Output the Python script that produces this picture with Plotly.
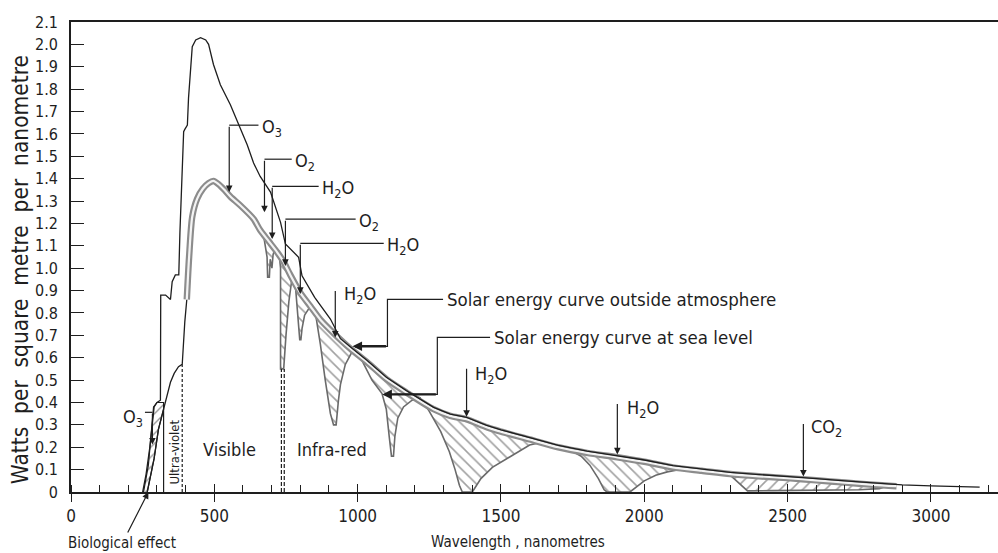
import plotly.graph_objects as go

# ---------------------------------------------------------------- data
# Spectrum outside the atmosphere (thin black line), W m^-2 nm^-1
outside_nm = [250, 262, 275, 285, 290, 300, 312, 313, 330, 347, 353, 364, 376, 380,
              389, 393, 397, 406, 410, 417, 423, 435, 452, 470, 480, 497, 521, 556,
              591, 615, 637, 660, 696, 731, 748, 794, 806, 850, 905, 940, 975, 1033,
              1100, 1170, 1265, 1323, 1380, 1450, 1500, 1600, 1700, 1800, 1906, 2000,
              2100, 2200, 2300, 2400, 2500, 2600, 2700, 2800, 2900, 3000, 3100, 3170]
outside_wm2 = [0.00, 0.08, 0.20, 0.33, 0.38, 0.40, 0.41, 0.88, 0.88, 0.86, 0.94, 0.97, 0.97, 1.16,
               1.46, 1.61, 1.62, 1.64, 1.76, 1.91, 1.99, 2.02, 2.03, 2.02, 2.00, 1.91, 1.82, 1.73,
               1.62, 1.55, 1.47, 1.41, 1.34, 1.205, 1.108, 1.049, 0.966, 0.87, 0.773, 0.685, 0.648, 0.588,
               0.513, 0.453, 0.378, 0.348, 0.333, 0.298, 0.278, 0.243, 0.208, 0.183, 0.163, 0.143,
               0.118, 0.103, 0.088, 0.078, 0.070, 0.060, 0.050, 0.040, 0.032, 0.027, 0.024, 0.022]

# Sea-level spectrum without absorption bands (grey band)
envelope_nm = [404, 412, 423, 440, 460, 480, 497, 515, 535, 556, 591, 637, 660, 690, 720,
               741, 765, 800, 835, 870, 916, 975, 1033, 1100, 1170, 1265, 1323, 1380, 1450,
               1500, 1600, 1700, 1800, 1906, 2000, 2100, 2200, 2300, 2400, 2500, 2600, 2700,
               2800, 2880]
envelope_wm2 = [0.86, 1.05, 1.23, 1.31, 1.355, 1.38, 1.39, 1.375, 1.35, 1.32, 1.28, 1.22, 1.17,
                1.12, 1.07, 1.03, 0.97, 0.89, 0.83, 0.77, 0.71, 0.64, 0.58, 0.505, 0.445, 0.37,
                0.34, 0.325, 0.29, 0.27, 0.235, 0.20, 0.175, 0.155, 0.135, 0.11, 0.095, 0.08,
                0.07, 0.062, 0.052, 0.042, 0.032, 0.026]

# Sea-level spectrum in the ultra-violet
uv_sea_nm = [266, 290, 305, 323, 335, 347, 360, 375, 388, 392, 397, 404]
uv_sea_wm2 = [0.00, 0.15, 0.28, 0.37, 0.44, 0.49, 0.53, 0.56, 0.57, 0.66, 0.76, 0.86]

# Ozone-absorbed ultra-violet (biological effect region)
uv_abs_nm = [253, 270, 288, 300, 323, 323, 305, 290, 266]
uv_abs_wm2 = [0.00, 0.12, 0.38, 0.40, 0.40, 0.37, 0.28, 0.15, 0.00]

# Lower edge of the sea-level spectrum inside each absorption band
dip_o2_nm = [672, 684, 686, 692, 695, 701, 705, 712]
dip_o2_wm2 = [1.145, 1.05, 0.96, 0.96, 1.04, 1.00, 1.06, 1.09]
dip_o2a_nm = [728, 731, 731, 742, 750, 760, 771]
dip_o2a_wm2 = [1.04, 1.00, 0.55, 0.55, 0.70, 0.85, 0.955]
dip_h2o_820_nm = [783, 790, 798, 802, 806, 815, 835]
dip_h2o_820_wm2 = [0.92, 0.80, 0.68, 0.68, 0.73, 0.79, 0.83]
dip_h2o_940_nm = [855, 870, 887, 905, 916, 925, 933, 940, 957, 982]
dip_h2o_940_wm2 = [0.78, 0.66, 0.50, 0.35, 0.30, 0.30, 0.41, 0.48, 0.57, 0.63]
dip_h2o_1130_nm = [1010, 1050, 1085, 1100, 1110, 1118, 1125, 1130, 1140, 1160, 1190, 1220]
dip_h2o_1130_wm2 = [0.60, 0.50, 0.44, 0.37, 0.25, 0.16, 0.16, 0.25, 0.33, 0.38, 0.41, 0.42]
dip_h2o_1400_nm = [1230, 1250, 1290, 1320, 1340, 1355, 1365, 1400, 1410, 1430, 1470, 1520, 1560,
                   1600, 1650]
dip_h2o_1400_wm2 = [0.40, 0.36, 0.27, 0.18, 0.10, 0.03, 0.00, 0.00, 0.02, 0.06, 0.11, 0.15, 0.18,
                    0.21, 0.225]
dip_h2o_1900_nm = [1740, 1780, 1810, 1840, 1860, 1870, 1950, 1970, 2000, 2040, 2080, 2120, 2150]
dip_h2o_1900_wm2 = [0.188, 0.16, 0.12, 0.06, 0.01, 0.00, 0.00, 0.02, 0.05, 0.075, 0.09, 0.10, 0.104]
dip_co2_nm = [2295, 2330, 2360, 2450, 2550, 2650, 2750, 2820, 2850]
dip_co2_wm2 = [0.081, 0.04, 0.005, 0.006, 0.008, 0.008, 0.01, 0.015, 0.028]

# Absorber labels and the wavelength / level each arrow points to
absorber_text = ["O<sub>3</sub>", "O<sub>2</sub>", "H<sub>2</sub>O", "O<sub>2</sub>",
                 "H<sub>2</sub>O", "H<sub>2</sub>O", "H<sub>2</sub>O", "H<sub>2</sub>O",
                 "CO<sub>2</sub>", "O<sub>3</sub>"]
absorber_nm = [552, 675, 702, 748, 800, 922, 1380, 1906, 2555, 284]
absorber_tip = [1.34, 1.25, 1.13, 1.01, 0.885, 0.69, 0.336, 0.168, 0.069, 0.212]

x_ticks = [0, 500, 1000, 1500, 2000, 2500, 3000]
y_ticks = [round(0.1 * i, 1) for i in range(22)]
y_tick_text = ["0"] + [f"{v:.1f}" for v in y_ticks[1:]]

# ---------------------------------------------------------------- style
INK = "#1e1e1e"
GREY = "#8c8c8c"
FONT = "DejaVu Sans Condensed, DejaVu Sans, sans-serif"

fig = go.Figure()


def hatch(nm, wm2, shape):
    """Hatched area between the envelope and a lower sea-level edge."""
    lo, hi = nm[0], nm[-1]
    top_x = [x for x in envelope_nm if lo < x < hi]
    top_y = [y for x, y in zip(envelope_nm, envelope_wm2) if lo < x < hi]
    xs = list(nm) + top_x[::-1] + [nm[0]]
    ys = list(wm2) + top_y[::-1] + [wm2[0]]
    fig.add_trace(go.Scatter(
        x=xs, y=ys, mode="lines", fill="toself", fillcolor="rgba(0,0,0,0)",
        line=dict(color="#6a6a6a", width=1.6),
        fillpattern=dict(shape=shape, fgcolor="#444", bgcolor="white",
                         size=8, solidity=0.2),
        hoverinfo="skip", showlegend=False))


for dnm, dval, shp in [
    (dip_o2_nm, dip_o2_wm2, "\\"),
    (dip_o2a_nm, dip_o2a_wm2, "\\"),
    (dip_h2o_820_nm, dip_h2o_820_wm2, "\\"),
    (dip_h2o_940_nm, dip_h2o_940_wm2, "\\"),
    (dip_h2o_1130_nm, dip_h2o_1130_wm2, "\\"),
    (dip_h2o_1400_nm, dip_h2o_1400_wm2, "\\"),
    (dip_h2o_1900_nm, dip_h2o_1900_wm2, "\\"),
    (dip_co2_nm, dip_co2_wm2, "/"),
]:
    hatch(dnm, dval, shp)

# ultra-violet absorption
fig.add_trace(go.Scatter(
    x=uv_abs_nm, y=uv_abs_wm2, mode="lines", fill="toself", fillcolor="rgba(0,0,0,0)",
    line=dict(color=INK, width=1.2),
    fillpattern=dict(shape="/", fgcolor="#333", bgcolor="white", size=7, solidity=0.2),
    hoverinfo="skip", showlegend=False))

# sea-level curve in the ultra-violet
fig.add_trace(go.Scatter(x=uv_sea_nm, y=uv_sea_wm2, mode="lines",
                         line=dict(color=INK, width=1.3), hoverinfo="skip", showlegend=False))

# sea-level envelope: hollow grey band
fig.add_trace(go.Scatter(x=envelope_nm, y=envelope_wm2, mode="lines",
                         line=dict(shape="spline", smoothing=0.7, color=GREY, width=6.5),
                         hoverinfo="skip", showlegend=False))
fig.add_trace(go.Scatter(x=envelope_nm, y=envelope_wm2, mode="lines",
                         line=dict(shape="spline", smoothing=0.7, color="#f4f4f4", width=2.2),
                         hoverinfo="skip", showlegend=False))

# outside-atmosphere curve
fig.add_trace(go.Scatter(x=outside_nm, y=outside_wm2, mode="lines",
                         line=dict(color=INK, width=1.3), hoverinfo="skip", showlegend=False))

# region boundaries
fig.add_shape(type="line", x0=323, x1=323, y0=0, y1=0.37, line=dict(color=INK, width=1.2))
fig.add_shape(type="line", x0=388, x1=388, y0=0, y1=0.57,
              line=dict(color=INK, width=1.2, dash="3px,2px"))
for xb in (734, 744):
    fig.add_shape(type="line", x0=xb, x1=xb, y0=0, y1=0.55,
                  line=dict(color=INK, width=1.2, dash="4px,2px"))

# ---------------------------------------------------------------- annotations
LBL = dict(family=FONT, size=18, color=INK)
CAP = dict(family=FONT, size=18.5, color=INK)
SMALL = dict(family=FONT, size=15, color=INK)
ARROW = dict(showarrow=True, arrowhead=2, arrowsize=1.1, arrowwidth=1.2, arrowcolor=INK,
             axref="x", ayref="y", standoff=0)

# elbow leaders: (corner level, label start wavelength)
elbow = {0: (1.639, 660), 1: (1.487, 776), 2: (1.366, 870), 3: (1.219, 999), 4: (1.111, 1097)}
for i, (corner, lx) in elbow.items():
    fig.add_annotation(x=absorber_nm[i], y=absorber_tip[i], ax=absorber_nm[i], ay=corner,
                       text="", **ARROW)
    fig.add_shape(type="line", x0=absorber_nm[i], x1=lx - 6, y0=corner, y1=corner,
                  line=dict(color=INK, width=1.2))
    fig.add_annotation(x=lx, y=corner, text=absorber_text[i], showarrow=False,
                       xanchor="left", yanchor="middle", yshift=-3, font=LBL)

# straight leaders: (top of arrow, label wavelength, label level)
straight = {5: (0.905, 947, 0.88), 6: (0.557, 1404, 0.521), 7: (0.40, 1934, 0.373),
            8: (0.311, 2576, 0.284)}
for i, (top, lx, ly) in straight.items():
    fig.add_annotation(x=absorber_nm[i], y=absorber_tip[i], ax=absorber_nm[i], ay=top,
                       text="", **ARROW)
    fig.add_annotation(x=lx, y=ly, text=absorber_text[i], showarrow=False,
                       xanchor="left", yanchor="middle", font=LBL)

# ozone in the ultra-violet
fig.add_annotation(x=absorber_nm[9], y=absorber_tip[9], ax=absorber_nm[9], ay=0.356,
                   text="", **ARROW)
fig.add_shape(type="line", x0=258, x1=absorber_nm[9], y0=0.356, y1=0.356,
              line=dict(color=INK, width=1.2))
fig.add_annotation(x=259, y=0.33, text=absorber_text[9], showarrow=False,
                   xanchor="right", yanchor="middle", font=LBL)

# solar energy curve captions
captions = [("Solar energy curve outside atmosphere", 1306, 0.861, 1104, 0.651, 982),
            ("Solar energy curve at sea level", 1470, 0.691, 1278, 0.436, 1086)]
for text, lx, ly, cx, cy, tipx in captions:
    fig.add_shape(type="path",
                  path=f"M {lx - 8},{ly} L {cx},{ly} L {cx},{cy} L {tipx + 40},{cy}",
                  line=dict(color=INK, width=1.2))
    fig.add_annotation(x=tipx, y=cy, ax=cx, ay=cy, text="", showarrow=True, arrowhead=2,
                       arrowsize=0.8, arrowwidth=2.4, arrowcolor=INK,
                       axref="x", ayref="y", standoff=0)
    fig.add_annotation(x=lx, y=ly, text=text, showarrow=False, xanchor="left",
                       yanchor="middle", font=CAP)

# spectral regions
fig.add_annotation(x=552, y=0.19, text="Visible", showarrow=False, font=LBL)
fig.add_annotation(x=912, y=0.19, text="Infra-red", showarrow=False, font=LBL)
fig.add_annotation(x=362, y=0.18, text="Ultra-violet", textangle=-90, showarrow=False,
                   font=dict(family=FONT, size=13, color=INK))

# biological effect pointer
fig.add_annotation(x=270, y=0, ax=-26, ay=51, text="Biological effect", showarrow=True,
                   arrowhead=2, arrowsize=1.1, arrowwidth=1.2, arrowcolor=INK, standoff=0,
                   font=SMALL)

# axis titles
fig.add_annotation(xref="paper", yref="paper", x=(518 - 71) / 927, y=-0.107,
                   text="Wavelength , nanometres", showarrow=False, yanchor="middle",
                   xanchor="center", font=SMALL)
fig.add_annotation(xref="paper", yref="paper", x=(20 - 71) / 927, y=0.472, textangle=-90,
                   xanchor="center", yanchor="middle",
                   text="Watts  per  square  metre  per  nanometre", showarrow=False,
                   font=dict(family=FONT, size=22.5, color=INK))

# ---------------------------------------------------------------- axes
fig.update_layout(
    width=998, height=553,
    margin=dict(l=71, r=0, t=22, b=61),
    paper_bgcolor="white", plot_bgcolor="white",
    font=dict(family=FONT, size=14, color=INK),
    showlegend=False,
    xaxis=dict(range=[0, 3234], tickvals=x_ticks, ticktext=[str(v) for v in x_ticks],
               ticks="outside", ticklen=8, tickwidth=1.3, tickcolor=INK,
               showline=True, linecolor=INK, linewidth=1.6, mirror=True,
               showgrid=False, zeroline=False,
               minor=dict(dtick=100, ticks="inside", ticklen=7, tickwidth=1, tickcolor=INK),
               tickfont=dict(family=FONT, size=17, color=INK)),
    xaxis2=dict(range=[0, 3234], overlaying="x", matches="x", tickvals=x_ticks,
                showticklabels=False, ticks="inside", ticklen=8, tickwidth=1.3,
                tickcolor=INK, showgrid=False, zeroline=False, side="bottom",
                anchor="y"),
    yaxis=dict(range=[0, 2.1], tickvals=y_ticks, ticktext=y_tick_text,
               ticks="inside", ticklen=13, tickwidth=1.3, tickcolor=INK,
               showline=True, linecolor=INK, linewidth=1.6,
               showgrid=False, zeroline=False, ticklabelstandoff=8,
               tickfont=dict(family=FONT, size=16, color=INK)),
)
# invisible trace so the secondary x axis is drawn
fig.add_trace(go.Scatter(x=[0], y=[0], xaxis="x2", mode="markers", marker=dict(opacity=0),
                         hoverinfo="skip", showlegend=False))

fig.write_html("out.html")
